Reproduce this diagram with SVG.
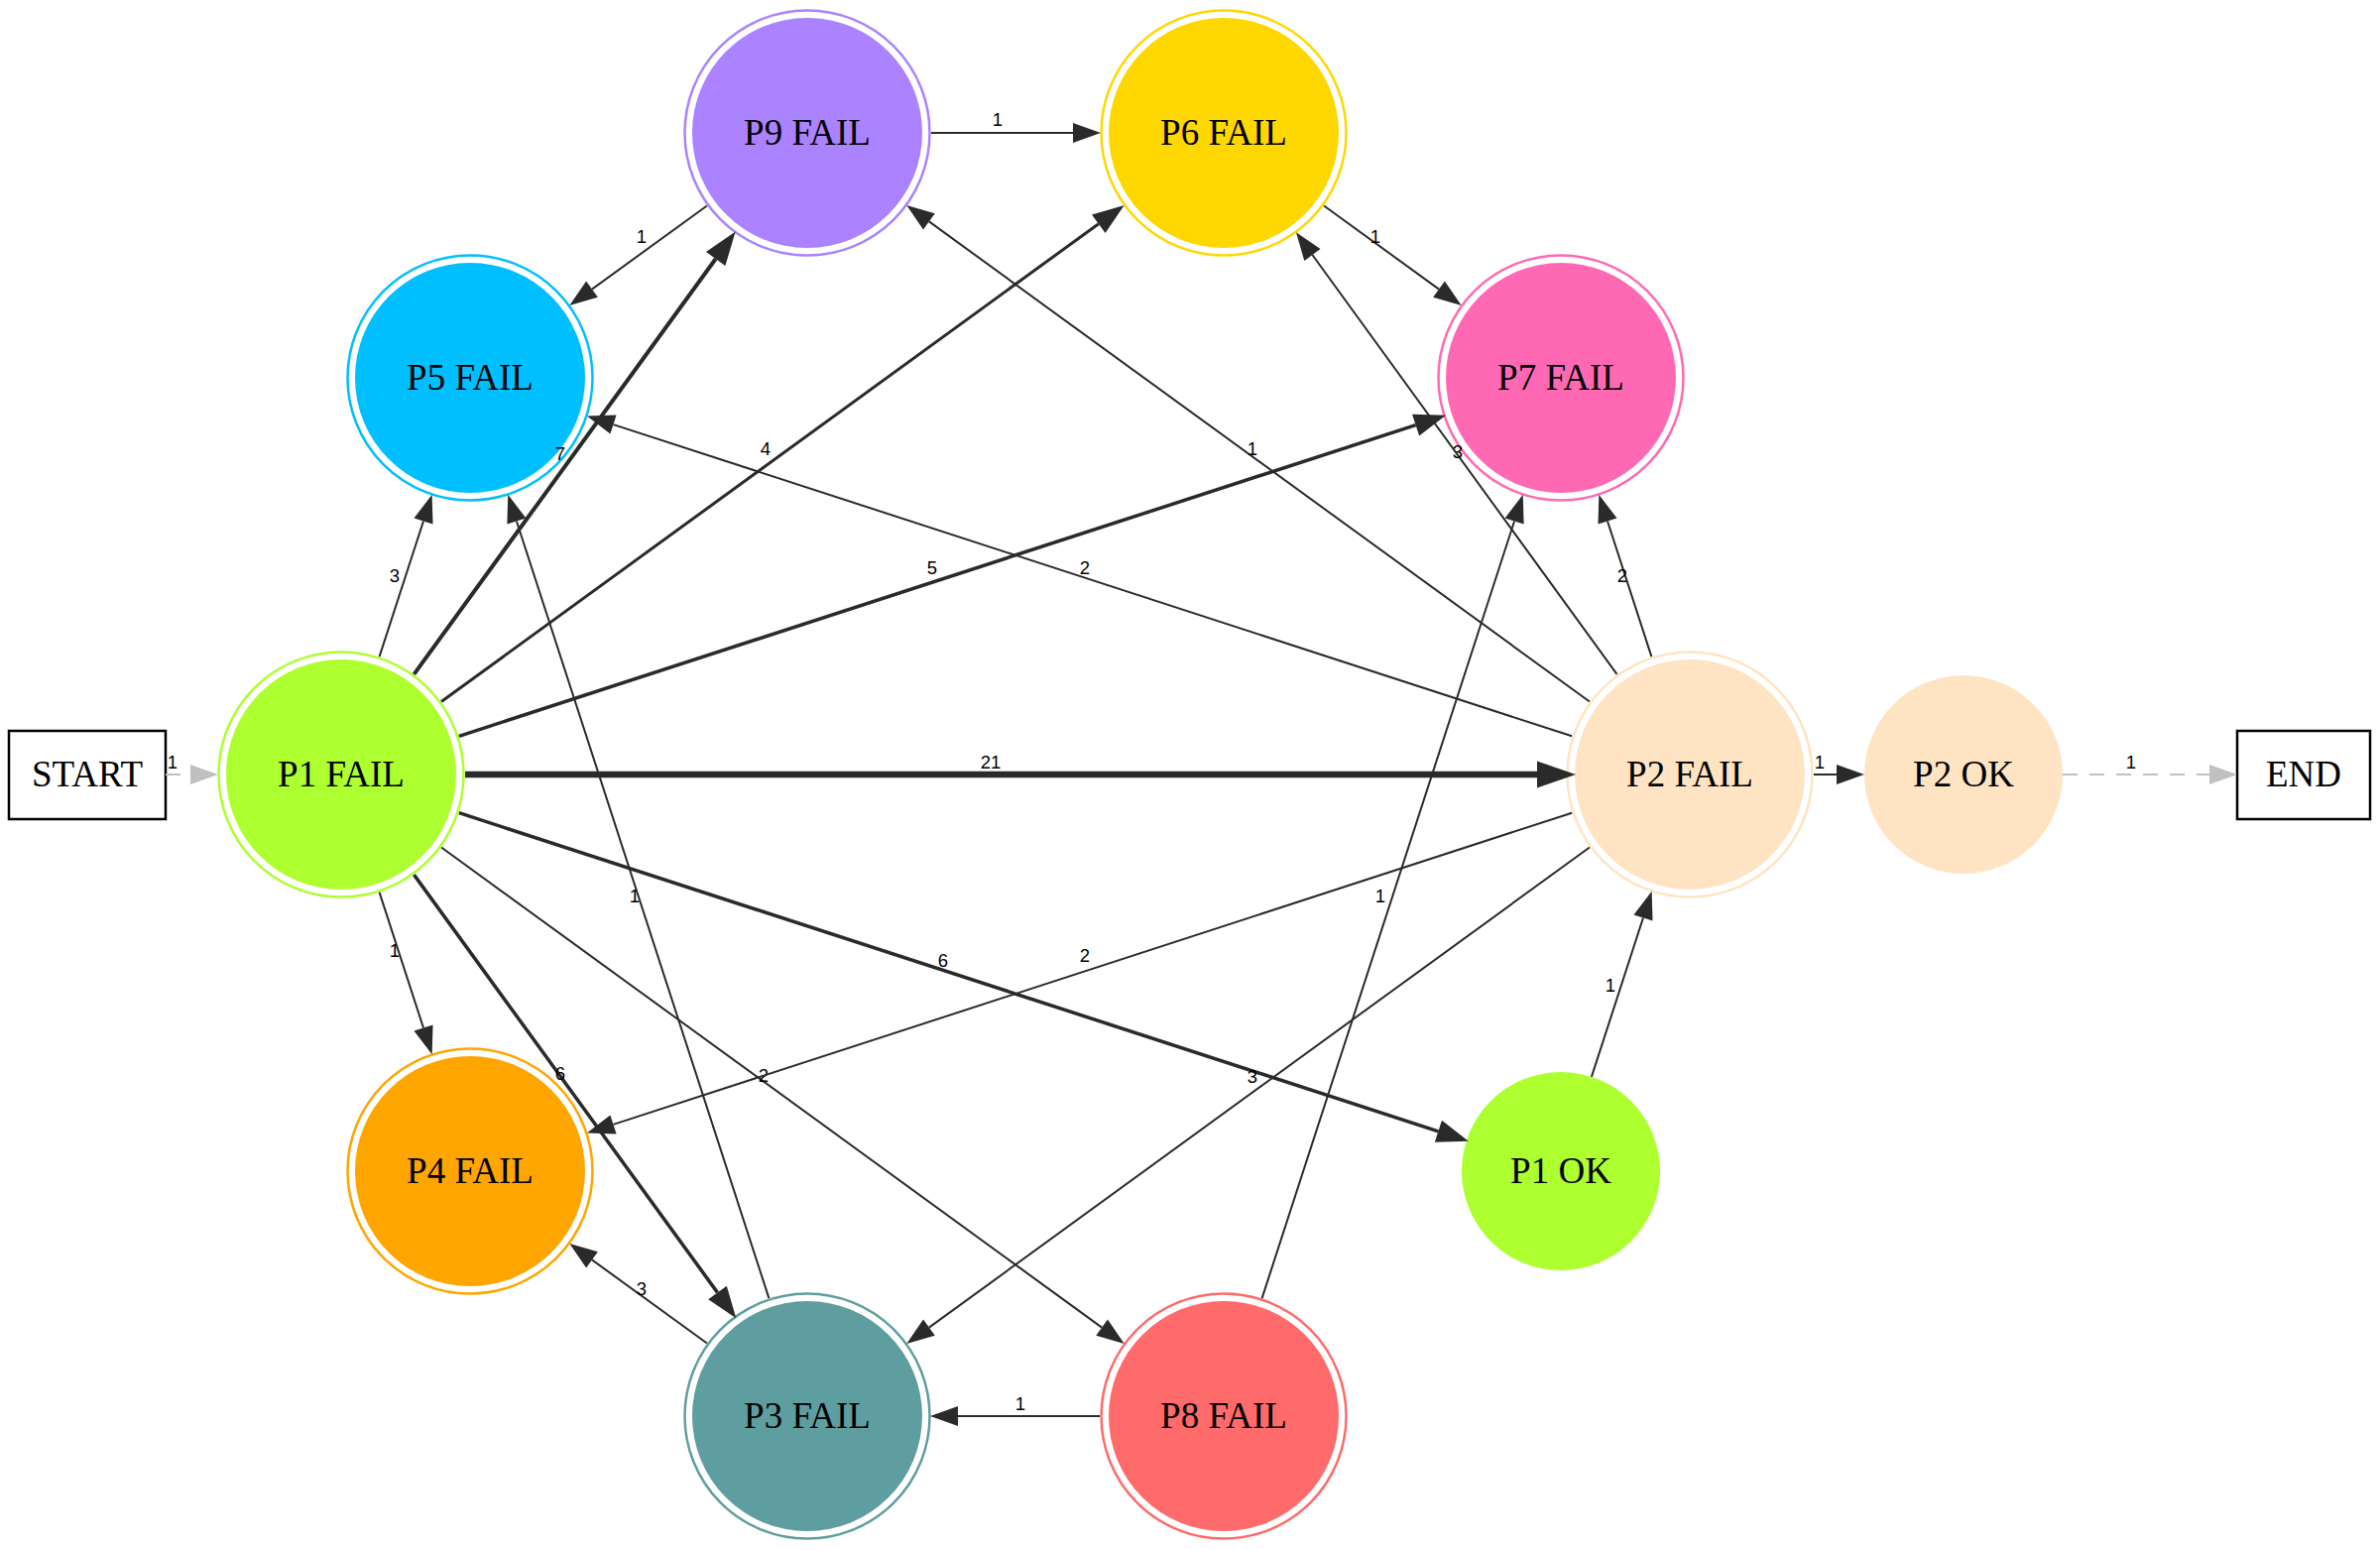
<svg xmlns="http://www.w3.org/2000/svg" width="2400" height="1563" viewBox="0 0 2400 1563">
  <defs>
    <style>
      .e { fill: none; stroke: #2a2a2a; stroke-width: 2; }
      .g { fill: none; stroke: #c0c0c0; stroke-width: 2; stroke-dasharray: 15 12; }
      .el { font-family: "Liberation Sans", Arial, sans-serif; font-size: 18.5px; text-anchor: middle; fill: #000; }
      .nl { font-family: "Liberation Serif", "Times New Roman", serif; font-size: 37px; text-anchor: middle; fill: #000; }
      .ring { fill: none; stroke-width: 2.5; }
      .box { fill: #fff; stroke: #000; stroke-width: 2.5; }
    </style>
    <!-- arrowheads: refX 0 sits at the line end, head points forward -->
    <marker id="ah" markerUnits="userSpaceOnUse" markerWidth="28" markerHeight="20" refX="0" refY="10" orient="auto" overflow="visible">
      <path d="M0,0 L28,10 L0,20 Z" fill="#2a2a2a"/>
    </marker>
    <marker id="ah3" markerUnits="userSpaceOnUse" markerWidth="32" markerHeight="23" refX="0" refY="11.5" orient="auto" overflow="visible">
      <path d="M0,0 L32,11.5 L0,23 Z" fill="#2a2a2a"/>
    </marker>
    <marker id="ah4" markerUnits="userSpaceOnUse" markerWidth="34" markerHeight="24" refX="0" refY="12" orient="auto" overflow="visible">
      <path d="M0,0 L34,12 L0,24 Z" fill="#2a2a2a"/>
    </marker>
    <marker id="ah6" markerUnits="userSpaceOnUse" markerWidth="39" markerHeight="27" refX="0" refY="13.5" orient="auto" overflow="visible">
      <path d="M0,0 L39,13.5 L0,27 Z" fill="#2a2a2a"/>
    </marker>
    <marker id="ahg" markerUnits="userSpaceOnUse" markerWidth="28" markerHeight="20" refX="0" refY="10" orient="auto" overflow="visible">
      <path d="M0,0 L28,10 L0,20 Z" fill="#c0c0c0"/>
    </marker>
  </defs>

  <rect width="2400" height="1563" fill="#fff"/>

  <!-- nodes -->
  <g id="start">
    <rect class="box" x="9" y="737" width="158" height="89"/>
    <text class="nl" x="88" y="793">START</text>
  </g>
  <g id="end">
    <rect class="box" x="2256" y="737" width="134" height="89"/>
    <text class="nl" x="2323" y="793">END</text>
  </g>
  <g id="p1fail">
    <circle class="ring" cx="344" cy="781" r="123.5" stroke="#ADFF2F"/>
    <circle cx="344" cy="781" r="116" fill="#ADFF2F"/>
    <text class="nl" x="344" y="793">P1 FAIL</text>
  </g>
  <g id="p5fail">
    <circle class="ring" cx="474" cy="381" r="123.5" stroke="#00BFFF"/>
    <circle cx="474" cy="381" r="116" fill="#00BFFF"/>
    <text class="nl" x="474" y="393">P5 FAIL</text>
  </g>
  <g id="p9fail">
    <circle class="ring" cx="814" cy="134" r="123.5" stroke="#AB82FF"/>
    <circle cx="814" cy="134" r="116" fill="#AB82FF"/>
    <text class="nl" x="814" y="146">P9 FAIL</text>
  </g>
  <g id="p6fail">
    <circle class="ring" cx="1234" cy="134" r="123.5" stroke="#FFD700"/>
    <circle cx="1234" cy="134" r="116" fill="#FFD700"/>
    <text class="nl" x="1234" y="146">P6 FAIL</text>
  </g>
  <g id="p7fail">
    <circle class="ring" cx="1574" cy="381" r="123.5" stroke="#FF69B4"/>
    <circle cx="1574" cy="381" r="116" fill="#FF69B4"/>
    <text class="nl" x="1574" y="393">P7 FAIL</text>
  </g>
  <g id="p2fail">
    <circle class="ring" cx="1704" cy="781" r="123.5" stroke="#FFE4C4"/>
    <circle cx="1704" cy="781" r="116" fill="#FFE4C4"/>
    <text class="nl" x="1704" y="793">P2 FAIL</text>
  </g>
  <g id="p2ok">
    <circle cx="1980" cy="781" r="100" fill="#FFE4C4"/>
    <text class="nl" x="1980" y="793">P2 OK</text>
  </g>
  <g id="p1ok">
    <circle cx="1574" cy="1181" r="100" fill="#ADFF2F"/>
    <text class="nl" x="1574" y="1193">P1 OK</text>
  </g>
  <g id="p8fail">
    <circle class="ring" cx="1234" cy="1428" r="123.5" stroke="#FF6A6A"/>
    <circle cx="1234" cy="1428" r="116" fill="#FF6A6A"/>
    <text class="nl" x="1234" y="1440">P8 FAIL</text>
  </g>
  <g id="p3fail">
    <circle class="ring" cx="814" cy="1428" r="123.5" stroke="#5F9EA0"/>
    <circle cx="814" cy="1428" r="116" fill="#5F9EA0"/>
    <text class="nl" x="814" y="1440">P3 FAIL</text>
  </g>
  <g id="p4fail">
    <circle class="ring" cx="474" cy="1181" r="123.5" stroke="#FFA500"/>
    <circle cx="474" cy="1181" r="116" fill="#FFA500"/>
    <text class="nl" x="474" y="1193">P4 FAIL</text>
  </g>

  <!-- connectors -->
  <g id="edges">
    <path class="g" d="M167,781 L192,781" marker-end="url(#ahg)"/>
    <text class="el" x="174" y="774.5">1</text>

    <path class="e" d="M469,781 L1550,781" style="stroke-width:6.5" marker-end="url(#ah6)"/>
    <text class="el" x="999" y="774.5">21</text>

    <path class="e" d="M417.5,679.9 L721.7,261" style="stroke-width:4" marker-end="url(#ah4)"/>
    <text class="el" x="565" y="463.5">7</text>

    <path class="e" d="M445.1,707.5 L1107.8,225.7" style="stroke-width:3" marker-end="url(#ah3)"/>
    <text class="el" x="772" y="458.5">4</text>

    <path class="e" d="M462.9,742.3 L1427.6,428.6" style="stroke-width:3.5" marker-end="url(#ah3)"/>
    <text class="el" x="940" y="578.5">5</text>

    <path class="e" d="M382.6,662.1 L427,525.5" marker-end="url(#ah)"/>
    <text class="el" x="398" y="586.5">3</text>

    <path class="e" d="M382.6,899.9 L427,1036.5" marker-end="url(#ah)"/>
    <text class="el" x="398" y="964.5">1</text>

    <path class="e" d="M417.5,882.1 L723.5,1303.4" style="stroke-width:3.5" marker-end="url(#ah3)"/>
    <text class="el" x="565" y="1088.5">6</text>

    <path class="e" d="M445.1,854.5 L1111.1,1338.6" marker-end="url(#ah)"/>
    <text class="el" x="770" y="1090.5">2</text>

    <path class="e" d="M462.9,819.7 L1450.4,1140.8" style="stroke-width:3.5" marker-end="url(#ah3)"/>
    <text class="el" x="951" y="974.5">6</text>

    <path class="e" d="M939,134 L1082,134" marker-end="url(#ah)"/>
    <text class="el" x="1006" y="126.5">1</text>

    <path class="e" d="M712.9,207.5 L597,291.6" marker-end="url(#ah)"/>
    <text class="el" x="647" y="244.5">1</text>

    <path class="e" d="M1335.1,207.5 L1451,291.6" marker-end="url(#ah)"/>
    <text class="el" x="1387" y="244.5">1</text>

    <path class="e" d="M1829,781 L1852,781" marker-end="url(#ah)"/>
    <text class="el" x="1835" y="774.5">1</text>

    <path class="g" d="M2080,781 L2228,781" marker-end="url(#ahg)"/>
    <text class="el" x="2149" y="774.5">1</text>

    <path class="e" d="M1585.1,742.3 L618.5,428.1" marker-end="url(#ah)"/>
    <text class="el" x="1094" y="578.5">2</text>

    <path class="e" d="M1602.9,707.5 L936.9,223.4" marker-end="url(#ah)"/>
    <text class="el" x="1263" y="458.5">1</text>

    <path class="e" d="M1630.5,679.9 L1323.4,257" marker-end="url(#ah)"/>
    <text class="el" x="1470" y="461.5">3</text>

    <path class="e" d="M1665.4,662.1 L1621,525.5" marker-end="url(#ah)"/>
    <text class="el" x="1636" y="586.5">2</text>

    <path class="e" d="M1585.1,819.7 L618.5,1133.9" marker-end="url(#ah)"/>
    <text class="el" x="1094" y="969.5">2</text>

    <path class="e" d="M1602.9,854.5 L936.9,1338.6" marker-end="url(#ah)"/>
    <text class="el" x="1263" y="1091.5">3</text>

    <path class="e" d="M1604.9,1085.9 L1657,925.5" marker-end="url(#ah)"/>
    <text class="el" x="1624" y="999.5">1</text>

    <path class="e" d="M1109,1428 L966,1428" marker-end="url(#ah)"/>
    <text class="el" x="1029" y="1421.5">1</text>

    <path class="e" d="M1272.6,1309.1 L1527.1,525.5" marker-end="url(#ah)"/>
    <text class="el" x="1392" y="909.5">1</text>

    <path class="e" d="M775.4,1309.1 L520.9,525.5" marker-end="url(#ah)"/>
    <text class="el" x="640" y="909.5">1</text>

    <path class="e" d="M712.9,1354.5 L597,1270.4" marker-end="url(#ah)"/>
    <text class="el" x="647" y="1305.5">3</text>
  </g>
</svg>
